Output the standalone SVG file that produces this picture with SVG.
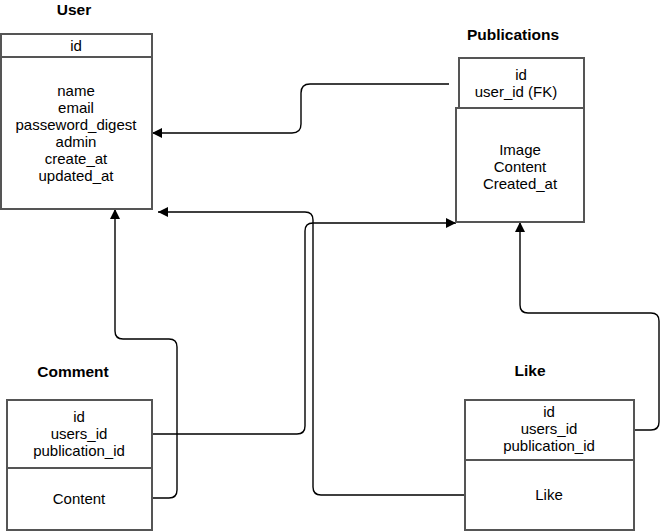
<svg xmlns="http://www.w3.org/2000/svg" width="660" height="532" viewBox="0 0 660 532">
<defs>
<style>
.box{fill:#fff;stroke:#555;stroke-width:2}
.t{font-family:"Liberation Sans",Arial,sans-serif;font-size:15px;fill:#000;text-anchor:middle}
.h{font-family:"Liberation Sans",Arial,sans-serif;font-size:15.5px;font-weight:bold;fill:#000;text-anchor:middle}
.c{fill:none;stroke:#000;stroke-width:1.4}
</style>
<marker id="arr" markerUnits="userSpaceOnUse" markerWidth="12" markerHeight="10" refX="10" refY="5" orient="auto">
<path d="M0,0 L10,5 L0,10 Z" fill="#000"/>
</marker>
</defs>
<g id="connectors">
<path class="c" d="M449,84 H310 Q301,84 301,93 V124 Q301,133 292,133 H152" marker-end="url(#arr)"/>
<path class="c" d="M465,495 H321 Q313,495 313,487 V220 Q313,212 305,212 H158" marker-end="url(#arr)"/>
<path class="c" d="M152,434 H297 Q305,434 305,426 V231 Q305,223 313,223 H456" marker-end="url(#arr)"/>
<path class="c" d="M152,498 H169 Q177,498 177,490 V347 Q177,339 169,339 H123 Q115,339 115,331 V209" marker-end="url(#arr)"/>
<path class="c" d="M634,430 H651 Q659,430 659,422 V321 Q659,313 651,313 H528 Q520,313 520,305 V222" marker-end="url(#arr)"/>
</g>
<g id="user">
<text class="h" x="74" y="15">User</text>
<rect class="box" x="1" y="34" width="151" height="175"/>
<line class="box" x1="1" y1="57" x2="152" y2="57"/>
<text class="t" x="76" y="51">id</text>
<text class="t" x="76" y="96">name</text>
<text class="t" x="76" y="113">email</text>
<text class="t" x="76" y="130">passeword_digest</text>
<text class="t" x="76" y="147">admin</text>
<text class="t" x="76" y="164">create_at</text>
<text class="t" x="76" y="181">updated_at</text>
</g>
<g id="publications">
<text class="h" x="513" y="40">Publications</text>
<rect class="box" x="459" y="58" width="125" height="50"/>
<rect class="box" x="456" y="108" width="128" height="114"/>
<text class="t" x="521" y="80">id</text>
<text class="t" x="516" y="97">user_id (FK)</text>
<text class="t" x="520" y="155">Image</text>
<text class="t" x="520" y="172">Content</text>
<text class="t" x="520" y="189">Created_at</text>
</g>
<g id="comment">
<text class="h" x="73" y="377">Comment</text>
<rect class="box" x="7" y="400" width="145" height="130"/>
<line class="box" x1="7" y1="468" x2="152" y2="468"/>
<text class="t" x="79" y="422">id</text>
<text class="t" x="79" y="439">users_id</text>
<text class="t" x="79" y="456">publication_id</text>
<text class="t" x="79" y="504">Content</text>
</g>
<g id="like">
<text class="h" x="530" y="376">Like</text>
<rect class="box" x="465" y="400" width="169" height="130"/>
<line class="box" x1="465" y1="460" x2="634" y2="460"/>
<text class="t" x="549" y="417">id</text>
<text class="t" x="549" y="434">users_id</text>
<text class="t" x="549" y="451">publication_id</text>
<text class="t" x="549" y="500">Like</text>
</g>
</svg>
